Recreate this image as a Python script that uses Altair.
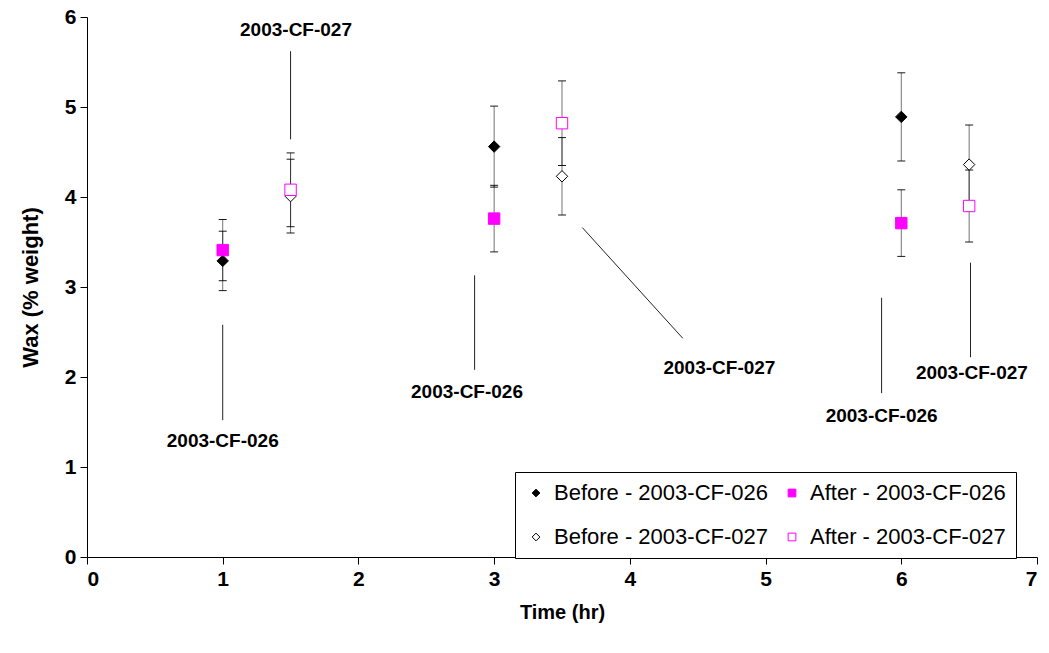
import altair as alt
import pandas as pd

# ---- data ----
series_names = ["Before - 2003-CF-026", "After - 2003-CF-026",
                "Before - 2003-CF-027", "After - 2003-CF-027"]

time_026 = [1, 3, 6]
time_027 = [1.5, 3.5, 6.5]

before_026 = [3.29, 4.56, 4.89]
before_026_err = [0.33, 0.45, 0.49]
after_026 = [3.41, 3.76, 3.71]
after_026_err = [0.34, 0.37, 0.37]

before_027 = [4.01, 4.23, 4.36]
before_027_err = [0.41, 0.43, 0.44]
after_027 = [4.08, 4.82, 3.90]
after_027_err = [0.41, 0.47, 0.40]

# annotation labels and leader lines (data coordinates)
ann_text = ["2003-CF-027", "2003-CF-026", "2003-CF-026", "2003-CF-027", "2003-CF-026", "2003-CF-027"]
ann_x = [1.54, 1.0, 2.80, 4.66, 5.855, 6.52]
ann_y = [5.86, 1.29, 1.83, 2.10, 1.57, 2.04]
lead_x1 = [1.50, 1.0, 2.856, 3.65, 5.855, 6.51]
lead_y1 = [5.62, 2.58, 3.13, 3.66, 2.88, 3.27]
lead_x2 = [1.50, 1.0, 2.856, 4.39, 5.855, 6.51]
lead_y2 = [4.64, 1.52, 2.08, 2.43, 1.82, 2.22]

# ---- build tables ----
rows = []
for name, xs, ys, es in [
    (series_names[0], time_026, before_026, before_026_err),
    (series_names[1], time_026, after_026, after_026_err),
    (series_names[2], time_027, before_027, before_027_err),
    (series_names[3], time_027, after_027, after_027_err),
]:
    for x, y, e in zip(xs, ys, es):
        rows.append({"series": name, "time": x, "wax": y, "lo": y - e, "hi": y + e})
df = pd.DataFrame(rows)

ann = pd.DataFrame({"text": ann_text, "x": ann_x, "y": ann_y})
lead = pd.DataFrame({"x1": lead_x1, "y1": lead_y1, "x2": lead_x2, "y2": lead_y2})

FONT = "Liberation Sans"

xscale = alt.Scale(domain=[0, 7], nice=False, zero=False)
yscale = alt.Scale(domain=[0, 6], nice=False, zero=False)
xaxis = alt.Axis(title="Time (hr)", values=list(range(0, 8)), format="d")
yaxis = alt.Axis(title="Wax (% weight)", values=list(range(0, 7)), format="d")


def X(field):
    return alt.X(field, scale=xscale, axis=xaxis)


def Y(field):
    return alt.Y(field, scale=yscale, axis=yaxis)


leg = alt.Legend(
    title=None, orient="none", legendX=428, legendY=455, columns=2,
    strokeColor="black", fillColor="white", padding=10,
    rowPadding=22, columnPadding=13, labelFontSize=22, labelFont=FONT,
    labelColor="black", labelLimit=400, symbolSize=60, symbolStrokeWidth=1,
    labelOffset=7,
)

# legend is filled column by column: order so rows read Before/After
domain = [series_names[0], series_names[2], series_names[1], series_names[3]]
stroke_range = ["black", "black", "#ff00ff", "#ff00ff"]
fill_range = ["black", "white", "#ff00ff", "white"]
shape_range = ["diamond", "diamond", "square", "square"]

base = alt.Chart(df)

err_rules = base.mark_rule(color="black", strokeWidth=1, opacity=0.55).encode(
    x=X("time:Q"), y=Y("lo:Q"), y2="hi:Q"
)
caps_hi = base.mark_tick(orient="horizontal", size=8, thickness=1, color="black", opacity=0.9).encode(
    x=X("time:Q"), y=Y("hi:Q")
)
caps_lo = base.mark_tick(orient="horizontal", size=8, thickness=1, color="black", opacity=0.9).encode(
    x=X("time:Q"), y=Y("lo:Q")
)

points = base.mark_point(strokeWidth=1, opacity=1, size=130).encode(
    x=X("time:Q"),
    y=Y("wax:Q"),
    shape=alt.Shape("series:N", scale=alt.Scale(domain=domain, range=shape_range), legend=leg),
    fill=alt.Fill("series:N", scale=alt.Scale(domain=domain, range=fill_range), legend=leg),
    stroke=alt.Stroke("series:N", scale=alt.Scale(domain=domain, range=stroke_range), legend=leg),
)

leaders = alt.Chart(lead).mark_rule(color="#222", strokeWidth=1).encode(
    x=X("x1:Q"), y=Y("y1:Q"), x2="x2:Q", y2="y2:Q",
)

labels = alt.Chart(ann).mark_text(
    font=FONT, fontWeight="bold", fontSize=19, color="black", align="center", baseline="middle"
).encode(
    x=X("x:Q"), y=Y("y:Q"), text="text:N"
)

chart = alt.layer(err_rules, caps_hi, caps_lo, leaders, labels, points).properties(
    width=950, height=540,
    autosize=alt.AutoSizeParams(type="none"),
    padding={"left": 87, "top": 17, "right": 12, "bottom": 96},
).configure_view(stroke=None).configure_axis(
    grid=False, domainColor="black", tickColor="black", tickSize=7,
    labelFont=FONT, labelFontWeight="bold", labelFontSize=21, labelColor="black",
    titleFont=FONT, titleFontWeight="bold", titleColor="black",
).configure_axisX(labelPadding=4, titlePadding=13, titleFontSize=20).configure_axisY(
    labelPadding=4, titlePadding=22, titleFontSize=22
)

chart.save("out.html", embed_options={"renderer": "svg", "actions": False})
